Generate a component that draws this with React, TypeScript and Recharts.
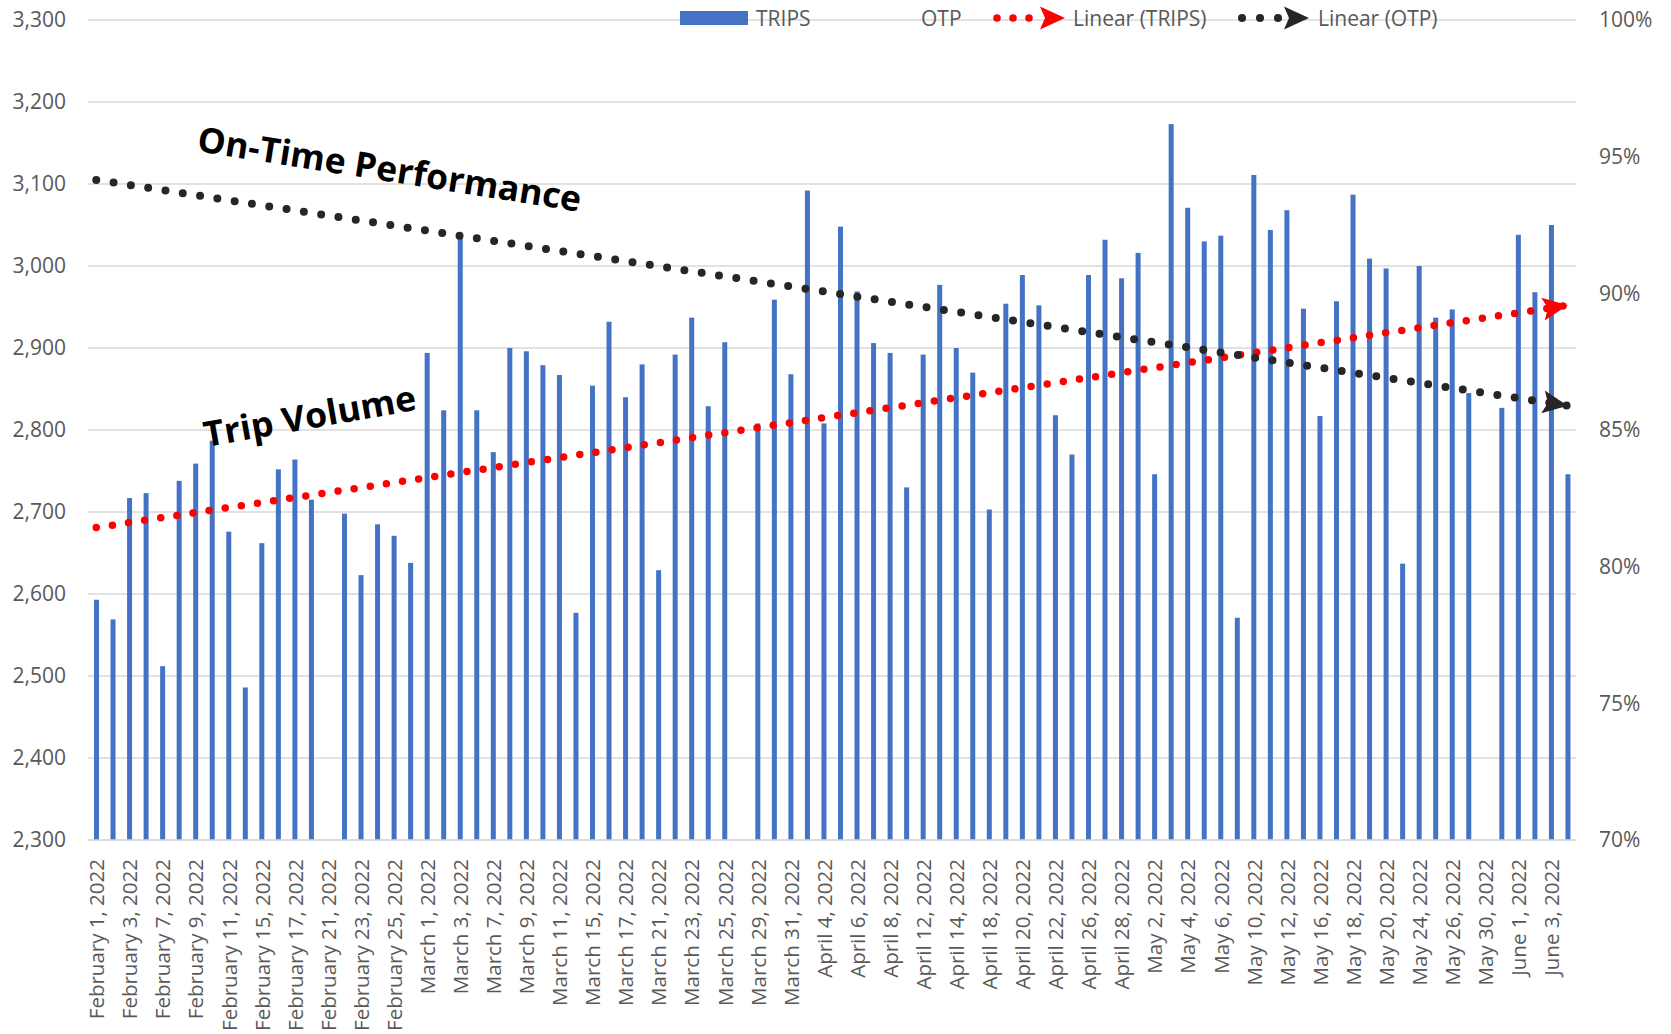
import React from "react";
import { ComposedChart, Bar, Line, XAxis, YAxis, CartesianGrid } from "recharts";

const dates = [
  "February 1, 2022", "February 2, 2022", "February 3, 2022", "February 4, 2022", "February 7, 2022",
  "February 8, 2022", "February 9, 2022", "February 10, 2022", "February 11, 2022", "February 14, 2022",
  "February 15, 2022", "February 16, 2022", "February 17, 2022", "February 18, 2022", "February 21, 2022",
  "February 22, 2022", "February 23, 2022", "February 24, 2022", "February 25, 2022", "February 28, 2022",
  "March 1, 2022", "March 2, 2022", "March 3, 2022", "March 4, 2022", "March 7, 2022",
  "March 8, 2022", "March 9, 2022", "March 10, 2022", "March 11, 2022", "March 14, 2022",
  "March 15, 2022", "March 16, 2022", "March 17, 2022", "March 18, 2022", "March 21, 2022",
  "March 22, 2022", "March 23, 2022", "March 24, 2022", "March 25, 2022", "March 28, 2022",
  "March 29, 2022", "March 30, 2022", "March 31, 2022", "April 1, 2022", "April 4, 2022",
  "April 5, 2022", "April 6, 2022", "April 7, 2022", "April 8, 2022", "April 11, 2022",
  "April 12, 2022", "April 13, 2022", "April 14, 2022", "April 15, 2022", "April 18, 2022",
  "April 19, 2022", "April 20, 2022", "April 21, 2022", "April 22, 2022", "April 25, 2022",
  "April 26, 2022", "April 27, 2022", "April 28, 2022", "April 29, 2022", "May 2, 2022",
  "May 3, 2022", "May 4, 2022", "May 5, 2022", "May 6, 2022", "May 9, 2022",
  "May 10, 2022", "May 11, 2022", "May 12, 2022", "May 13, 2022", "May 16, 2022",
  "May 17, 2022", "May 18, 2022", "May 19, 2022", "May 20, 2022", "May 23, 2022",
  "May 24, 2022", "May 25, 2022", "May 26, 2022", "May 27, 2022", "May 30, 2022",
  "May 31, 2022", "June 1, 2022", "June 2, 2022", "June 3, 2022", "June 6, 2022",
];

const trips = [
  2593, 2569, 2717, 2723, 2512, 2738, 2759, 2787, 2676, 2486,
  2662, 2752, 2764, 2715, 0, 2698, 2623, 2685, 2671, 2638,
  2894, 2824, 3036, 2824, 2773, 2900, 2896, 2879, 2867, 2577,
  2854, 2932, 2840, 2880, 2629, 2892, 2937, 2829, 2907, 0,
  2808, 2959, 2868, 3092, 2808, 3048, 2969, 2906, 2894, 2730,
  2892, 2977, 2900, 2870, 2703, 2954, 2989, 2952, 2818, 2770,
  2989, 3032, 2985, 3016, 2746, 3173, 3071, 3030, 3037, 2571,
  3111, 3044, 3068, 2948, 2817, 2957, 3087, 3009, 2997, 2637,
  3000, 2937, 2947, 2845, 0, 2827, 3038, 2968, 3050, 2746,
];

// Linear trendline end points (first and last category)
const tripsTrendEnds = [2681, 2952];
const otpTrendEnds = [0.9415, 0.8589];

const leftTicks = [2300, 2400, 2500, 2600, 2700, 2800, 2900, 3000, 3100, 3200, 3300];
const rightTicks = [0.7, 0.75, 0.8, 0.85, 0.9, 0.95, 1.0];

const AXIS_MIN = 2300;

const data = dates.map((d, i) => ({
  date: d,
  trips: trips[i],
  tripsTrend: i === 0 ? tripsTrendEnds[0] : i === dates.length - 1 ? tripsTrendEnds[1] : null,
  otpTrend: i === 0 ? otpTrendEnds[0] : i === dates.length - 1 ? otpTrendEnds[1] : null,
}));

const FONT = "'Open Sans', sans-serif";
const GRAY = "#595959";
const BLUE = "#4472C4";
const RED = "#FF0000";
const DARK = "#262626";

const XTick = (props: any) => {
  const { x, y, payload } = props;
  return (
    <text
      transform={`translate(${x},${y + 19}) rotate(-90)`}
      textAnchor="end"
      dominantBaseline="central"
      fontSize={20.5}
      fontFamily={FONT}
      fill={GRAY}
    >
      {payload.value}
    </text>
  );
};

// Bars below the axis minimum (zero days) show only a small dash under the axis, as in the source
const BarShape = (props: any) => {
  const { x, y, width, height, value, background } = props;
  const v = Array.isArray(value) ? value[1] : value;
  if (v != null && v <= AXIS_MIN) {
    const baseY = background ? background.y + background.height : 840;
    return <rect x={x} y={baseY + 1} width={width} height={1.5} fill={BLUE} />;
  }
  if (!(height > 0)) return null;
  return <rect x={x} y={y} width={width} height={height} fill={BLUE} />;
};

const arrowPath = "M0,0 L25,11.5 L0,23 L5,11.5 Z";

export default function App() {
  return (
    <div style={{ position: "absolute", left: 0, top: 0, width: 1671, height: 1034, background: "#fff" }}>
      <ComposedChart
        width={1671}
        height={1034}
        data={data}
        margin={{ top: 20, right: 0, bottom: 0, left: 0 }}
        barCategoryGap={0}
      >
        <CartesianGrid yAxisId="left" vertical={false} stroke="#d9d9d9" strokeWidth={1.5} />
        <XAxis
          dataKey="date"
          interval={1}
          height={194}
          tickLine={false}
          tickSize={0}
          tickMargin={0}
          axisLine={{ stroke: "#d9d9d9", strokeWidth: 1.5 }}
          tick={<XTick />}
        />
        <YAxis
          yAxisId="left"
          orientation="left"
          width={88}
          domain={[2300, 3300]}
          ticks={leftTicks}
          allowDataOverflow
          axisLine={false}
          tickLine={false}
          tickSize={0}
          tickMargin={22}
          tick={{ fontSize: 21, fontFamily: FONT, fill: GRAY }}
          tickFormatter={(v: number) => v.toLocaleString("en-US")}
        />
        <YAxis
          yAxisId="right"
          orientation="right"
          width={95}
          domain={[0.7, 1.0]}
          ticks={rightTicks}
          allowDataOverflow
          axisLine={false}
          tickLine={false}
          tickSize={0}
          tickMargin={23}
          tick={{ fontSize: 21, fontFamily: FONT, fill: GRAY, textAnchor: "start" }}
          tickFormatter={(v: number) => `${Math.round(v * 100)}%`}
        />
        <Bar
          yAxisId="left"
          dataKey="trips"
          fill={BLUE}
          barSize={5}
          shape={<BarShape />}
          isAnimationActive={false}
        />
        <Line
          yAxisId="left"
          dataKey="tripsTrend"
          type="linear"
          connectNulls
          stroke={RED}
          strokeWidth={7.5}
          strokeDasharray="0 16.3"
          strokeLinecap="round"
          dot={false}
          activeDot={false}
          markerEnd="url(#arrowRed)"
          isAnimationActive={false}
        />
        <Line
          yAxisId="right"
          dataKey="otpTrend"
          type="linear"
          connectNulls
          stroke={DARK}
          strokeWidth={8}
          strokeDasharray="0 17.5"
          strokeLinecap="round"
          dot={false}
          activeDot={false}
          markerEnd="url(#arrowDark)"
          isAnimationActive={false}
        />
      </ComposedChart>
      <svg
        width={1671}
        height={1034}
        style={{ position: "absolute", left: 0, top: 0, pointerEvents: "none" }}
      >
        <defs>
          <marker id="arrowRed" markerUnits="userSpaceOnUse" viewBox="0 0 25 23" markerWidth={25} markerHeight={23} refX={25} refY={11.5} orient="auto">
            <path d={arrowPath} fill={RED} />
          </marker>
          <marker id="arrowDark" markerUnits="userSpaceOnUse" viewBox="0 0 25 23" markerWidth={25} markerHeight={23} refX={25} refY={11.5} orient="auto">
            <path d={arrowPath} fill={DARK} />
          </marker>
        </defs>
        {/* Legend */}
        <g fontFamily={FONT} fontSize={21} fill={GRAY}>
          <rect x={680} y={11} width={68} height={14} fill={BLUE} />
          <text x={756} y={18} dominantBaseline="central">TRIPS</text>
          <text x={921} y={18} dominantBaseline="central">OTP</text>
          <circle cx={997} cy={18} r={3.8} fill={RED} />
          <circle cx={1013} cy={18} r={3.8} fill={RED} />
          <circle cx={1029} cy={18} r={3.8} fill={RED} />
          <path d={arrowPath} fill={RED} transform="translate(1040,6.5)" />
          <text x={1073} y={18} dominantBaseline="central">Linear (TRIPS)</text>
          <circle cx={1242} cy={18} r={4} fill={DARK} />
          <circle cx={1260} cy={18} r={4} fill={DARK} />
          <circle cx={1278} cy={18} r={4} fill={DARK} />
          <path d={arrowPath} fill={DARK} transform="translate(1284,6.5)" />
          <text x={1318} y={18} dominantBaseline="central">Linear (OTP)</text>
        </g>
        {/* Annotations */}
        <text
          transform="translate(196,151) rotate(9)"
          fontFamily={FONT}
          fontWeight={700}
          fontSize={35}
          fill="#000"
          textLength={388}
          lengthAdjust="spacingAndGlyphs"
        >
          On-Time Performance
        </text>
        <text
          transform="translate(206,447) rotate(-10)"
          fontFamily={FONT}
          fontWeight={700}
          fontSize={35}
          fill="#000"
          textLength={215}
          lengthAdjust="spacingAndGlyphs"
        >
          Trip Volume
        </text>
      </svg>
    </div>
  );
}
